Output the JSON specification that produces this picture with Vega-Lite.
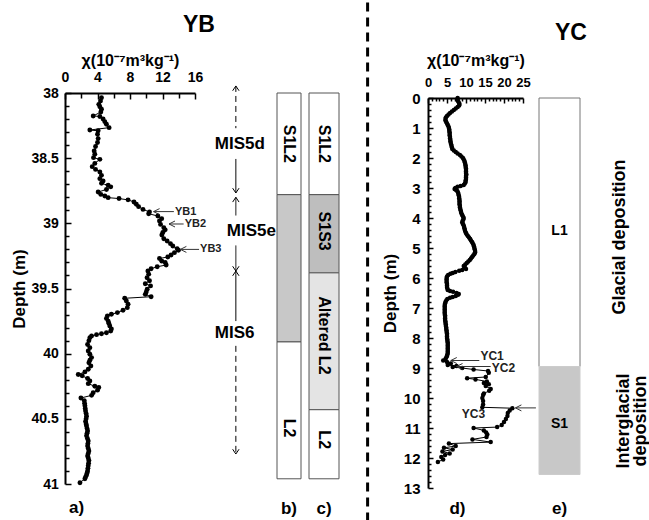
{
  "$schema": "https://vega.github.io/schema/vega-lite/v6.json",
  "background": "white",
  "padding": {"left": 10, "top": 0, "right": 0, "bottom": 0},
  "autosize": {"type": "pad"},
  "config": {
    "font": "Liberation Sans",
    "view": {"stroke": null},
    "axis": {
      "domainColor": "black", "domainWidth": 2, "tickColor": "black", "tickWidth": 1.5,
      "labelColor": "black", "labelFont": "Liberation Sans", "labelFontWeight": "bold",
      "titleColor": "black", "titleFont": "Liberation Sans", "titleFontWeight": "bold",
      "grid": false, "labelOverlap": false, "labelFlush": false
    },
    "title": {"font": "Liberation Sans", "fontWeight": "bold", "color": "black"}
  },
  "datasets": {
    "yb": [
      {"depth": 38.036, "chi": 4.49}, {"depth": 38.061, "chi": 4.37}, {"depth": 38.087, "chi": 4.16}, {"depth": 38.105, "chi": 4.29},
      {"depth": 38.125, "chi": 4.49}, {"depth": 38.146, "chi": 4.41}, {"depth": 38.176, "chi": 3.47}, {"depth": 38.18, "chi": 4.29},
      {"depth": 38.2, "chi": 4.69}, {"depth": 38.22, "chi": 4.9}, {"depth": 38.24, "chi": 5.1}, {"depth": 38.266, "chi": 5.43},
      {"depth": 38.284, "chi": 3.06}, {"depth": 38.29, "chi": 4.08}, {"depth": 38.317, "chi": 4.0}, {"depth": 38.35, "chi": 4.08},
      {"depth": 38.38, "chi": 4.0}, {"depth": 38.41, "chi": 3.76}, {"depth": 38.445, "chi": 3.59}, {"depth": 38.47, "chi": 3.67},
      {"depth": 38.496, "chi": 3.51}, {"depth": 38.509, "chi": 4.29}, {"depth": 38.54, "chi": 3.67}, {"depth": 38.565, "chi": 3.35},
      {"depth": 38.586, "chi": 3.76}, {"depth": 38.606, "chi": 4.29}, {"depth": 38.632, "chi": 4.49}, {"depth": 38.657, "chi": 4.29},
      {"depth": 38.675, "chi": 4.69}, {"depth": 38.693, "chi": 4.49}, {"depth": 38.708, "chi": 5.31}, {"depth": 38.72, "chi": 5.63},
      {"depth": 38.74, "chi": 5.1}, {"depth": 38.76, "chi": 4.08}, {"depth": 38.778, "chi": 4.41}, {"depth": 38.79, "chi": 4.9},
      {"depth": 38.803, "chi": 5.31}, {"depth": 38.81, "chi": 6.65}, {"depth": 38.82, "chi": 7.76}, {"depth": 38.836, "chi": 8.49},
      {"depth": 38.854, "chi": 8.78}, {"depth": 38.872, "chi": 9.06}, {"depth": 38.893, "chi": 9.6}, {"depth": 38.913, "chi": 10.4},
      {"depth": 38.926, "chi": 10.3}, {"depth": 38.944, "chi": 11.43}, {"depth": 38.964, "chi": 11.9}, {"depth": 38.982, "chi": 11.63},
      {"depth": 39.008, "chi": 11.76}, {"depth": 39.033, "chi": 12.16}, {"depth": 39.05, "chi": 12.33}, {"depth": 39.07, "chi": 12.04},
      {"depth": 39.09, "chi": 11.92}, {"depth": 39.118, "chi": 12.16}, {"depth": 39.136, "chi": 12.57}, {"depth": 39.156, "chi": 12.98},
      {"depth": 39.174, "chi": 13.27}, {"depth": 39.194, "chi": 13.8}, {"depth": 39.207, "chi": 13.96}, {"depth": 39.225, "chi": 13.47},
      {"depth": 39.243, "chi": 13.06}, {"depth": 39.258, "chi": 12.65}, {"depth": 39.27, "chi": 11.63}, {"depth": 39.29, "chi": 11.92},
      {"depth": 39.3, "chi": 12.33}, {"depth": 39.32, "chi": 12.45}, {"depth": 39.333, "chi": 11.35}, {"depth": 39.348, "chi": 10.6},
      {"depth": 39.366, "chi": 10.2}, {"depth": 39.39, "chi": 10.3}, {"depth": 39.417, "chi": 10.1}, {"depth": 39.44, "chi": 10.4},
      {"depth": 39.463, "chi": 9.88}, {"depth": 39.48, "chi": 10.53}, {"depth": 39.506, "chi": 10.12}, {"depth": 39.527, "chi": 10.0},
      {"depth": 39.545, "chi": 9.88}, {"depth": 39.563, "chi": 10.6}, {"depth": 39.575, "chi": 7.35}, {"depth": 39.596, "chi": 7.55},
      {"depth": 39.62, "chi": 7.76}, {"depth": 39.647, "chi": 7.67}, {"depth": 39.667, "chi": 7.14}, {"depth": 39.685, "chi": 6.45},
      {"depth": 39.698, "chi": 5.71}, {"depth": 39.71, "chi": 5.22}, {"depth": 39.73, "chi": 5.1}, {"depth": 39.75, "chi": 5.31},
      {"depth": 39.767, "chi": 5.39}, {"depth": 39.788, "chi": 5.51}, {"depth": 39.81, "chi": 5.71}, {"depth": 39.826, "chi": 5.63},
      {"depth": 39.84, "chi": 5.1}, {"depth": 39.847, "chi": 4.49}, {"depth": 39.854, "chi": 3.88}, {"depth": 39.865, "chi": 3.27},
      {"depth": 39.877, "chi": 3.06}, {"depth": 39.9, "chi": 2.94}, {"depth": 39.93, "chi": 2.78}, {"depth": 39.954, "chi": 3.06},
      {"depth": 39.98, "chi": 2.86}, {"depth": 40.005, "chi": 3.06}, {"depth": 40.03, "chi": 3.27}, {"depth": 40.05, "chi": 3.06},
      {"depth": 40.07, "chi": 2.94}, {"depth": 40.095, "chi": 3.18}, {"depth": 40.12, "chi": 2.86}, {"depth": 40.14, "chi": 2.45},
      {"depth": 40.16, "chi": 1.63}, {"depth": 40.17, "chi": 2.12}, {"depth": 40.19, "chi": 2.78}, {"depth": 40.21, "chi": 3.06},
      {"depth": 40.23, "chi": 2.86}, {"depth": 40.25, "chi": 3.67}, {"depth": 40.26, "chi": 4.16}, {"depth": 40.28, "chi": 4.0},
      {"depth": 40.3, "chi": 3.47}, {"depth": 40.32, "chi": 3.27}, {"depth": 40.34, "chi": 1.96}, {"depth": 40.36, "chi": 2.37},
      {"depth": 40.38, "chi": 2.41}, {"depth": 40.4, "chi": 2.45}, {"depth": 40.42, "chi": 2.49}, {"depth": 40.44, "chi": 2.53},
      {"depth": 40.46, "chi": 2.6}, {"depth": 40.48, "chi": 2.65}, {"depth": 40.5, "chi": 2.6}, {"depth": 40.52, "chi": 2.53},
      {"depth": 40.54, "chi": 2.6}, {"depth": 40.555, "chi": 2.65}, {"depth": 40.575, "chi": 2.72}, {"depth": 40.593, "chi": 2.78},
      {"depth": 40.61, "chi": 2.72}, {"depth": 40.63, "chi": 2.65}, {"depth": 40.65, "chi": 2.76}, {"depth": 40.67, "chi": 2.86},
      {"depth": 40.69, "chi": 2.82}, {"depth": 40.708, "chi": 2.78}, {"depth": 40.727, "chi": 2.86}, {"depth": 40.747, "chi": 2.94},
      {"depth": 40.766, "chi": 2.86}, {"depth": 40.785, "chi": 2.78}, {"depth": 40.8, "chi": 2.86}, {"depth": 40.82, "chi": 2.94},
      {"depth": 40.84, "chi": 2.9}, {"depth": 40.86, "chi": 2.86}, {"depth": 40.88, "chi": 2.82}, {"depth": 40.9, "chi": 2.78},
      {"depth": 40.915, "chi": 2.72}, {"depth": 40.93, "chi": 2.65}, {"depth": 40.945, "chi": 2.55}, {"depth": 40.96, "chi": 2.45},
      {"depth": 40.99, "chi": 1.84}
    ],
    "ybMarks": [
      {"label": "YB1", "depth": 38.91, "from": 13.4, "tip": 10.9},
      {"label": "YB2", "depth": 39.005, "from": 14.6, "tip": 12.8},
      {"label": "YB3", "depth": 39.2, "from": 16.5, "tip": 14.2}
    ],
    "mis": [
      {"top": 37.946, "bottom": 38.27, "style": "dashed"},
      {"top": 38.506, "bottom": 38.767, "style": "solid"},
      {"top": 38.80, "bottom": 38.94, "style": "solid"},
      {"top": 39.17, "bottom": 39.366, "style": "solid"},
      {"top": 39.366, "bottom": 39.75, "style": "solid"},
      {"top": 39.94, "bottom": 40.77, "style": "dashed"}
    ],
    "misHeads": [
      {"depth": 37.946, "dir": "up"}, {"depth": 38.767, "dir": "down"}, {"depth": 38.80, "dir": "up"},
      {"depth": 39.366, "dir": "down"}, {"depth": 39.366, "dir": "up"}, {"depth": 40.77, "dir": "down"}
    ],
    "misLabels": [
      {"label": "MIS5d", "depth": 38.39}, {"label": "MIS6", "depth": 39.84}
    ],
    "misLabelPeak": [
      {"label": "MIS5e", "depth": 39.06}
    ],
    "colB": [
      {"unit": "S1L2", "top": 38.0, "bottom": 38.78, "shade": "white"},
      {"unit": "", "top": 38.78, "bottom": 39.91, "shade": "gray"},
      {"unit": "L2", "top": 39.91, "bottom": 40.96, "shade": "white"}
    ],
    "colBLabels": [
      {"unit": "S1L2", "depth": 38.39}, {"unit": "L2", "depth": 40.57}
    ],
    "colC": [
      {"unit": "S1L2", "top": 38.0, "bottom": 38.78, "shade": "white"},
      {"unit": "S1S3", "top": 38.78, "bottom": 39.38, "shade": "dark"},
      {"unit": "Altered L2", "top": 39.38, "bottom": 40.43, "shade": "light"},
      {"unit": "L2", "top": 40.43, "bottom": 40.96, "shade": "white"}
    ],
    "colCLabels": [
      {"unit": "S1L2", "depth": 38.39}, {"unit": "S1S3", "depth": 39.06},
      {"unit": "Altered L2", "depth": 39.86}, {"unit": "L2", "depth": 40.66}
    ],
    "yc": [
      {"depth": 0.0, "chi": 7.8}, {"depth": 0.05, "chi": 7.7}, {"depth": 0.1, "chi": 7.9}, {"depth": 0.15, "chi": 8.1},
      {"depth": 0.2, "chi": 8.3}, {"depth": 0.25, "chi": 8.2}, {"depth": 0.3, "chi": 7.8}, {"depth": 0.35, "chi": 7.3},
      {"depth": 0.4, "chi": 6.8}, {"depth": 0.45, "chi": 6.3}, {"depth": 0.5, "chi": 5.8}, {"depth": 0.55, "chi": 5.4},
      {"depth": 0.6, "chi": 5.0}, {"depth": 0.65, "chi": 4.7}, {"depth": 0.7, "chi": 4.6}, {"depth": 0.75, "chi": 4.6},
      {"depth": 0.8, "chi": 4.8}, {"depth": 0.85, "chi": 5.0}, {"depth": 0.9, "chi": 5.2}, {"depth": 0.95, "chi": 5.4},
      {"depth": 1.0, "chi": 5.5}, {"depth": 1.05, "chi": 5.6}, {"depth": 1.1, "chi": 5.6}, {"depth": 1.15, "chi": 5.7},
      {"depth": 1.2, "chi": 5.7}, {"depth": 1.25, "chi": 5.7}, {"depth": 1.3, "chi": 5.8}, {"depth": 1.35, "chi": 5.8},
      {"depth": 1.4, "chi": 5.9}, {"depth": 1.45, "chi": 5.9}, {"depth": 1.5, "chi": 6.0}, {"depth": 1.55, "chi": 6.1},
      {"depth": 1.6, "chi": 6.2}, {"depth": 1.65, "chi": 6.3}, {"depth": 1.7, "chi": 6.4}, {"depth": 1.75, "chi": 6.8},
      {"depth": 1.8, "chi": 7.3}, {"depth": 1.85, "chi": 7.8}, {"depth": 1.9, "chi": 8.4}, {"depth": 1.95, "chi": 8.8},
      {"depth": 2.0, "chi": 9.2}, {"depth": 2.05, "chi": 9.4}, {"depth": 2.1, "chi": 9.6}, {"depth": 2.15, "chi": 9.7},
      {"depth": 2.2, "chi": 9.8}, {"depth": 2.25, "chi": 9.9}, {"depth": 2.3, "chi": 9.9}, {"depth": 2.35, "chi": 10.0},
      {"depth": 2.4, "chi": 10.0}, {"depth": 2.45, "chi": 10.0}, {"depth": 2.5, "chi": 10.0}, {"depth": 2.55, "chi": 10.1},
      {"depth": 2.6, "chi": 10.0}, {"depth": 2.65, "chi": 10.0}, {"depth": 2.7, "chi": 10.0}, {"depth": 2.75, "chi": 9.9},
      {"depth": 2.8, "chi": 9.9}, {"depth": 2.85, "chi": 9.7}, {"depth": 2.9, "chi": 9.4}, {"depth": 2.93, "chi": 8.6},
      {"depth": 2.96, "chi": 7.8}, {"depth": 3.0, "chi": 7.2}, {"depth": 3.03, "chi": 7.0}, {"depth": 3.06, "chi": 7.3},
      {"depth": 3.1, "chi": 7.7}, {"depth": 3.15, "chi": 7.9}, {"depth": 3.2, "chi": 8.0}, {"depth": 3.25, "chi": 8.1},
      {"depth": 3.3, "chi": 8.2}, {"depth": 3.35, "chi": 8.2}, {"depth": 3.4, "chi": 8.3}, {"depth": 3.45, "chi": 8.3},
      {"depth": 3.5, "chi": 8.3}, {"depth": 3.55, "chi": 8.3}, {"depth": 3.6, "chi": 8.4}, {"depth": 3.65, "chi": 8.4},
      {"depth": 3.7, "chi": 8.5}, {"depth": 3.75, "chi": 8.6}, {"depth": 3.8, "chi": 8.7}, {"depth": 3.85, "chi": 8.8},
      {"depth": 3.9, "chi": 9.0}, {"depth": 3.95, "chi": 9.2}, {"depth": 4.0, "chi": 9.4}, {"depth": 4.05, "chi": 9.3},
      {"depth": 4.1, "chi": 9.1}, {"depth": 4.15, "chi": 9.0}, {"depth": 4.2, "chi": 9.2}, {"depth": 4.25, "chi": 9.4},
      {"depth": 4.3, "chi": 9.5}, {"depth": 4.35, "chi": 9.6}, {"depth": 4.4, "chi": 9.7}, {"depth": 4.45, "chi": 9.8},
      {"depth": 4.5, "chi": 10.0}, {"depth": 4.55, "chi": 10.2}, {"depth": 4.6, "chi": 10.5}, {"depth": 4.65, "chi": 10.8},
      {"depth": 4.7, "chi": 11.1}, {"depth": 4.75, "chi": 11.3}, {"depth": 4.8, "chi": 11.6}, {"depth": 4.85, "chi": 11.8},
      {"depth": 4.9, "chi": 12.0}, {"depth": 4.95, "chi": 12.1}, {"depth": 5.0, "chi": 12.2}, {"depth": 5.05, "chi": 12.3},
      {"depth": 5.1, "chi": 12.4}, {"depth": 5.15, "chi": 12.4}, {"depth": 5.2, "chi": 12.2}, {"depth": 5.25, "chi": 11.9},
      {"depth": 5.3, "chi": 11.6}, {"depth": 5.35, "chi": 11.3}, {"depth": 5.4, "chi": 11.0}, {"depth": 5.45, "chi": 10.6},
      {"depth": 5.5, "chi": 10.2}, {"depth": 5.55, "chi": 9.8}, {"depth": 5.6, "chi": 9.4}, {"depth": 5.65, "chi": 9.7},
      {"depth": 5.7, "chi": 10.0}, {"depth": 5.73, "chi": 9.0}, {"depth": 5.76, "chi": 8.2}, {"depth": 5.8, "chi": 7.2},
      {"depth": 5.83, "chi": 6.5}, {"depth": 5.86, "chi": 5.9}, {"depth": 5.9, "chi": 5.3}, {"depth": 5.95, "chi": 5.0},
      {"depth": 6.0, "chi": 4.9}, {"depth": 6.05, "chi": 4.9}, {"depth": 6.1, "chi": 4.9}, {"depth": 6.15, "chi": 4.9},
      {"depth": 6.2, "chi": 5.0}, {"depth": 6.25, "chi": 5.0}, {"depth": 6.3, "chi": 5.0}, {"depth": 6.35, "chi": 5.1},
      {"depth": 6.4, "chi": 5.2}, {"depth": 6.43, "chi": 5.8}, {"depth": 6.46, "chi": 6.6}, {"depth": 6.5, "chi": 7.5},
      {"depth": 6.53, "chi": 8.1}, {"depth": 6.56, "chi": 7.9}, {"depth": 6.6, "chi": 7.3}, {"depth": 6.63, "chi": 6.5},
      {"depth": 6.66, "chi": 5.8}, {"depth": 6.7, "chi": 5.1}, {"depth": 6.75, "chi": 4.8}, {"depth": 6.8, "chi": 4.6},
      {"depth": 6.85, "chi": 4.5}, {"depth": 6.9, "chi": 4.4}, {"depth": 6.95, "chi": 4.4}, {"depth": 7.0, "chi": 4.4},
      {"depth": 7.05, "chi": 4.4}, {"depth": 7.1, "chi": 4.4}, {"depth": 7.15, "chi": 4.4}, {"depth": 7.2, "chi": 4.4},
      {"depth": 7.25, "chi": 4.5}, {"depth": 7.3, "chi": 4.5}, {"depth": 7.35, "chi": 4.5}, {"depth": 7.4, "chi": 4.5},
      {"depth": 7.45, "chi": 4.6}, {"depth": 7.5, "chi": 4.6}, {"depth": 7.55, "chi": 4.7}, {"depth": 7.6, "chi": 4.7},
      {"depth": 7.65, "chi": 4.8}, {"depth": 7.7, "chi": 4.8}, {"depth": 7.75, "chi": 4.9}, {"depth": 7.8, "chi": 4.9},
      {"depth": 7.85, "chi": 5.0}, {"depth": 7.9, "chi": 5.0}, {"depth": 7.95, "chi": 5.0}, {"depth": 8.0, "chi": 5.0},
      {"depth": 8.05, "chi": 5.1}, {"depth": 8.1, "chi": 5.1}, {"depth": 8.15, "chi": 5.2}, {"depth": 8.2, "chi": 5.2},
      {"depth": 8.25, "chi": 5.2}, {"depth": 8.3, "chi": 5.2}, {"depth": 8.35, "chi": 5.2}, {"depth": 8.4, "chi": 5.2},
      {"depth": 8.45, "chi": 5.2}, {"depth": 8.5, "chi": 5.2}, {"depth": 8.55, "chi": 5.1}, {"depth": 8.6, "chi": 5.0},
      {"depth": 8.65, "chi": 4.8}, {"depth": 8.7, "chi": 4.6}, {"depth": 8.75, "chi": 4.0},
      {"depth": 8.8, "chi": 5.0}, {"depth": 8.85, "chi": 6.0}, {"depth": 8.9, "chi": 5.2}, {"depth": 8.93, "chi": 7.5},
      {"depth": 8.97, "chi": 6.5}, {"depth": 9.0, "chi": 9.0}, {"depth": 9.05, "chi": 12.0}, {"depth": 9.1, "chi": 15.8},
      {"depth": 9.16, "chi": 16.0}, {"depth": 9.3, "chi": 15.2}, {"depth": 9.34, "chi": 10.3}, {"depth": 9.38, "chi": 12.5},
      {"depth": 9.45, "chi": 15.5}, {"depth": 9.5, "chi": 14.7}, {"depth": 9.54, "chi": 16.0}, {"depth": 9.6, "chi": 15.2},
      {"depth": 9.7, "chi": 16.5}, {"depth": 9.76, "chi": 16.1}, {"depth": 9.85, "chi": 14.7}, {"depth": 9.9, "chi": 14.5},
      {"depth": 10.0, "chi": 14.3}, {"depth": 10.1, "chi": 14.5}, {"depth": 10.22, "chi": 14.5}, {"depth": 10.31, "chi": 14.3},
      {"depth": 10.34, "chi": 22.2}, {"depth": 10.42, "chi": 21.5}, {"depth": 10.5, "chi": 21.0}, {"depth": 10.6, "chi": 20.9},
      {"depth": 10.7, "chi": 20.5}, {"depth": 10.8, "chi": 20.0}, {"depth": 10.9, "chi": 19.4}, {"depth": 10.97, "chi": 18.2},
      {"depth": 11.0, "chi": 12.0}, {"depth": 11.08, "chi": 14.7}, {"depth": 11.15, "chi": 15.3}, {"depth": 11.22, "chi": 15.6},
      {"depth": 11.3, "chi": 15.4}, {"depth": 11.38, "chi": 11.7}, {"depth": 11.47, "chi": 16.5}, {"depth": 11.52, "chi": 5.5},
      {"depth": 11.6, "chi": 7.3}, {"depth": 11.66, "chi": 4.2}, {"depth": 11.72, "chi": 6.5}, {"depth": 11.78, "chi": 3.8},
      {"depth": 11.85, "chi": 5.7}, {"depth": 11.9, "chi": 4.5}, {"depth": 11.97, "chi": 3.5}, {"depth": 12.05, "chi": 4.0},
      {"depth": 12.13, "chi": 2.6}
    ],
    "ycMarks": [
      {"label": "YC1", "depth": 8.75, "from": 13.5, "tip": 6.0, "textChi": 13.8, "textDepth": 8.6},
      {"label": "YC2", "depth": 8.95, "from": 16.5, "tip": 7.5, "textChi": 16.8, "textDepth": 9.0},
      {"label": "YC3", "depth": 10.33, "from": 28.4, "tip": 23.0, "textChi": 8.9, "textDepth": 10.53}
    ],
    "colE": [
      {"unit": "L1", "top": 0, "bottom": 8.95, "shade": "white"},
      {"unit": "S1", "top": 8.95, "bottom": 12.55, "shade": "gray"}
    ],
    "colELabels": [
      {"unit": "L1", "depth": 4.43}, {"unit": "S1", "depth": 10.87}
    ],
    "glacial": [
      {"text": ["Glacial deposition"], "depth": 4.63}
    ],
    "interglacial": [
      {"text": ["Interglacial", "deposition"], "depth": 10.77}
    ]
  },
  "bounds": "flush",
  "spacing": 0,
  "hconcat": [
    {
      "width": 130,
      "height": 391,
      "title": {"text": "a)", "orient": "bottom", "anchor": "start", "frame": "group", "dx": 4, "offset": 9, "fontSize": 17},
      "resolve": {"axis": {"x": "independent", "y": "independent"}},
      "layer": [
        {
          "data": {"name": "yb"},
          "mark": {"type": "line", "color": "black", "strokeWidth": 1, "clip": false},
          "encoding": {
            "x": {
              "field": "chi", "type": "quantitative",
              "scale": {"domain": [0, 16], "nice": false, "zero": false},
              "axis": {
                "orient": "top", "title": "χ(10⁻⁷m³kg⁻¹)", "titleFontSize": 16, "titlePadding": 2,
                "values": [0, 4, 8, 12, 16], "tickSize": -6, "labelPadding": 15, "labelFontSize": 14
              }
            },
            "y": {
              "field": "depth", "type": "quantitative",
              "scale": {"domain": [38, 41], "nice": false, "zero": false, "reverse": true},
              "axis": {
                "orient": "left", "title": "Depth (m)", "titleFontSize": 17, "titlePadding": 3,
                "values": [38, 38.5, 39, 39.5, 40, 40.5, 41], "format": "~g",
                "tickSize": -6, "labelPadding": 12.7, "labelFontSize": 14
              }
            },
            "order": {"field": "depth", "type": "quantitative"}
          }
        },
        {
          "data": {"name": "yb"},
          "mark": {"type": "point", "filled": true, "color": "black", "size": 24, "opacity": 1, "clip": false},
          "encoding": {
            "x": {
              "field": "chi", "type": "quantitative",
              "axis": {"orient": "top", "title": null, "labels": false, "domain": false, "values": [2, 6, 10, 14], "tickSize": -5}
            },
            "y": {
              "field": "depth", "type": "quantitative",
              "axis": {"orient": "left", "title": null, "labels": false, "domain": false, "tickSize": -4,
                "values": [38.1, 38.2, 38.3, 38.4, 38.6, 38.7, 38.8, 38.9, 39.1, 39.2, 39.3, 39.4, 39.6, 39.7, 39.8, 39.9, 40.1, 40.2, 40.3, 40.4, 40.6, 40.7, 40.8, 40.9]}
            }
          }
        },
        {
          "data": {"name": "ybMarks"},
          "mark": {"type": "rule", "color": "#333", "strokeWidth": 1},
          "encoding": {
            "x": {"field": "from", "type": "quantitative", "axis": null},
            "x2": {"field": "tip"},
            "y": {"field": "depth", "type": "quantitative", "axis": null}
          }
        },
        {
          "data": {"name": "ybMarks"},
          "mark": {"type": "point", "filled": false, "color": "#333", "strokeWidth": 1, "size": 100, "opacity": 1, "shape": "M0,0L1.2,-0.6M0,0L1.2,0.6"},
          "encoding": {
            "x": {"field": "tip", "type": "quantitative", "axis": null},
            "y": {"field": "depth", "type": "quantitative", "axis": null}
          }
        },
        {
          "data": {"name": "ybMarks"},
          "mark": {"type": "text", "align": "left", "baseline": "middle", "fontSize": 11, "fontWeight": "bold", "dx": 1, "color": "#222"},
          "encoding": {
            "x": {"field": "from", "type": "quantitative", "axis": null},
            "y": {"field": "depth", "type": "quantitative", "axis": null},
            "text": {"field": "label"}
          }
        }
      ]
    },
    {
      "width": 81.7,
      "height": 391,
      "title": {"text": "YB", "anchor": "start", "dx": -12, "fontSize": 23, "offset": 47},
      "layer": [
        {
          "data": {"name": "mis"},
          "mark": {"type": "rule", "color": "black", "strokeWidth": 1},
          "encoding": {
            "y": {"field": "top", "type": "quantitative", "scale": {"domain": [38, 41], "nice": false, "zero": false, "reverse": true}, "axis": null},
            "y2": {"field": "bottom"},
            "strokeDash": {"field": "style", "type": "nominal", "scale": {"domain": ["dashed", "solid"], "range": [[6, 4], [1, 0]]}, "legend": null}
          }
        },
        {
          "data": {"name": "misHeads"},
          "mark": {"type": "point", "filled": false, "color": "black", "strokeWidth": 1, "size": 64, "opacity": 1},
          "encoding": {
            "y": {"field": "depth", "type": "quantitative"},
            "shape": {"field": "dir", "type": "nominal", "scale": {"domain": ["up", "down"], "range": ["M-0.8,1.2L0,0L0.8,1.2", "M-0.8,-1.2L0,0L0.8,-1.2"]}, "legend": null}
          }
        },
        {
          "data": {"name": "misLabels"},
          "mark": {"type": "text", "align": "left", "baseline": "middle", "dx": -21, "fontSize": 17, "fontWeight": "bold", "color": "black"},
          "encoding": {
            "y": {"field": "depth", "type": "quantitative"},
            "text": {"field": "label"}
          }
        },
        {
          "data": {"name": "misLabelPeak"},
          "mark": {"type": "text", "align": "left", "baseline": "middle", "dx": -9, "fontSize": 17, "fontWeight": "bold", "color": "black"},
          "encoding": {
            "y": {"field": "depth", "type": "quantitative"},
            "text": {"field": "label"}
          }
        }
      ]
    },
    {
      "width": 24,
      "height": 391,
      "title": {"text": "b)", "orient": "bottom", "anchor": "middle", "offset": 17, "fontSize": 17},
      "layer": [
        {
          "data": {"name": "colB"},
          "mark": {"type": "rect", "stroke": "#555", "strokeWidth": 1},
          "encoding": {
            "y": {"field": "top", "type": "quantitative", "scale": {"domain": [38, 41], "nice": false, "zero": false, "reverse": true}, "axis": null},
            "y2": {"field": "bottom"},
            "fill": {"field": "shade", "type": "nominal", "scale": {"domain": ["white", "gray", "dark", "light"], "range": ["#ffffff", "#c8c8c8", "#bebebe", "#e4e4e4"]}, "legend": null}
          }
        },
        {
          "data": {"name": "colBLabels"},
          "mark": {"type": "text", "angle": 90, "align": "center", "baseline": "middle", "fontSize": 16, "fontWeight": "bold", "color": "black"},
          "encoding": {
            "y": {"field": "depth", "type": "quantitative"},
            "text": {"field": "unit"}
          }
        }
      ]
    },
    {"width": 8, "height": 391, "data": {"values": []}, "mark": "point"},
    {
      "width": 30,
      "height": 391,
      "title": {"text": "c)", "orient": "bottom", "anchor": "middle", "offset": 17, "fontSize": 17},
      "layer": [
        {
          "data": {"name": "colC"},
          "mark": {"type": "rect", "stroke": "#555", "strokeWidth": 1},
          "encoding": {
            "y": {"field": "top", "type": "quantitative", "scale": {"domain": [38, 41], "nice": false, "zero": false, "reverse": true}, "axis": null},
            "y2": {"field": "bottom"},
            "fill": {"field": "shade", "type": "nominal", "scale": {"domain": ["white", "gray", "dark", "light"], "range": ["#ffffff", "#c8c8c8", "#bebebe", "#e4e4e4"]}, "legend": null}
          }
        },
        {
          "data": {"name": "colCLabels"},
          "mark": {"type": "text", "angle": 90, "align": "center", "baseline": "middle", "fontSize": 16, "fontWeight": "bold", "color": "black"},
          "encoding": {
            "y": {"field": "depth", "type": "quantitative"},
            "text": {"field": "unit"}
          }
        }
      ]
    },
    {
      "width": 57.2,
      "height": 391,
      "data": {"values": [{}]},
      "mark": {"type": "rule", "color": "black", "strokeWidth": 3, "strokeDash": [9, 6], "clip": false},
      "encoding": {
        "y": {"datum": 37.3055, "type": "quantitative", "scale": {"domain": [38, 41], "nice": false, "zero": false, "reverse": true}, "axis": null},
        "y2": {"datum": 41.28}
      }
    },
    {"width": 30.4, "height": 391, "data": {"values": []}, "mark": "point"},
    {
      "width": 95,
      "height": 395,
      "title": {"text": "d)", "orient": "bottom", "anchor": "middle", "frame": "group", "dx": -18, "offset": 5, "fontSize": 17},
      "resolve": {"axis": {"x": "independent", "y": "independent"}},
      "layer": [
        {
          "data": {"name": "yc"},
          "mark": {"type": "line", "color": "black", "strokeWidth": 1, "clip": false},
          "encoding": {
            "x": {
              "field": "chi", "type": "quantitative",
              "scale": {"domain": [0, 25], "nice": false, "zero": false},
              "axis": {
                "orient": "top", "offset": -5, "title": "χ(10⁻⁷m³kg⁻¹)", "titleFontSize": 16, "titlePadding": 8,
                "values": [0, 5, 10, 15, 20, 25], "tickSize": -5, "labelPadding": 14, "labelFontSize": 13
              }
            },
            "y": {
              "field": "depth", "type": "quantitative",
              "scale": {"domain": [0, 13], "nice": false, "zero": false, "range": [5, 395]},
              "axis": {
                "orient": "left", "title": "Depth (m)", "titleFontSize": 17, "titlePadding": 4,
                "values": [0, 1, 2, 3, 4, 5, 6, 7, 8, 9, 10, 11, 12, 13], "format": "~g",
                "tickSize": -5, "labelPadding": 13, "labelFontSize": 15
              }
            },
            "order": {"field": "depth", "type": "quantitative"}
          }
        },
        {
          "data": {"name": "yc"},
          "mark": {"type": "point", "filled": true, "color": "black", "size": 20, "opacity": 1, "clip": false},
          "encoding": {
            "x": {
              "field": "chi", "type": "quantitative",
              "axis": {"orient": "top", "offset": -5, "title": null, "labels": false, "domain": false, "tickSize": -3,
                "values": [1, 2, 3, 4, 6, 7, 8, 9, 11, 12, 13, 14, 16, 17, 18, 19, 21, 22, 23, 24]}
            },
            "y": {
              "field": "depth", "type": "quantitative",
              "axis": {"orient": "left", "title": null, "labels": false, "domain": false, "tickSize": -3,
                "values": [0.2, 0.4, 0.6, 0.8, 1.2, 1.4, 1.6, 1.8, 2.2, 2.4, 2.6, 2.8, 3.2, 3.4, 3.6, 3.8, 4.2, 4.4, 4.6, 4.8, 5.2, 5.4, 5.6, 5.8, 6.2, 6.4, 6.6, 6.8, 7.2, 7.4, 7.6, 7.8, 8.2, 8.4, 8.6, 8.8, 9.2, 9.4, 9.6, 9.8, 10.2, 10.4, 10.6, 10.8, 11.2, 11.4, 11.6, 11.8, 12.2, 12.4, 12.6, 12.8]}
            }
          }
        },
        {
          "data": {"name": "ycMarks"},
          "mark": {"type": "rule", "color": "#333", "strokeWidth": 1},
          "encoding": {
            "x": {"field": "from", "type": "quantitative", "axis": null},
            "x2": {"field": "tip"},
            "y": {"field": "depth", "type": "quantitative", "axis": null}
          }
        },
        {
          "data": {"name": "ycMarks"},
          "mark": {"type": "point", "filled": false, "color": "#333", "strokeWidth": 1, "size": 100, "opacity": 1, "shape": "M0,0L1.2,-0.6M0,0L1.2,0.6"},
          "encoding": {
            "x": {"field": "tip", "type": "quantitative", "axis": null},
            "y": {"field": "depth", "type": "quantitative", "axis": null}
          }
        },
        {
          "data": {"name": "ycMarks"},
          "mark": {"type": "text", "align": "left", "baseline": "middle", "fontSize": 12, "fontWeight": "bold", "color": "#222"},
          "encoding": {
            "x": {"field": "textChi", "type": "quantitative", "axis": null},
            "y": {"field": "textDepth", "type": "quantitative", "axis": null},
            "text": {"field": "label"}
          }
        }
      ]
    },
    {"width": 16, "height": 395, "data": {"values": []}, "mark": "point"},
    {
      "width": 41,
      "height": 395,
      "title": {"text": "e)", "orient": "bottom", "anchor": "middle", "offset": 13, "fontSize": 17},
      "layer": [
        {
          "data": {"name": "colE"},
          "mark": {"type": "rect", "strokeWidth": 1},
          "encoding": {
            "y": {"field": "top", "type": "quantitative", "scale": {"domain": [0, 13], "nice": false, "zero": false, "range": [5, 395]}, "axis": null},
            "y2": {"field": "bottom"},
            "fill": {"field": "shade", "type": "nominal", "scale": {"domain": ["white", "gray"], "range": ["#ffffff", "#cccccc"]}, "legend": null},
            "stroke": {"field": "shade", "type": "nominal", "scale": {"domain": ["white", "gray"], "range": ["#777777", "#cccccc"]}, "legend": null}
          }
        },
        {
          "data": {"name": "colELabels"},
          "mark": {"type": "text", "align": "center", "baseline": "middle", "fontSize": 14, "fontWeight": "bold", "color": "black"},
          "encoding": {
            "y": {"field": "depth", "type": "quantitative"},
            "text": {"field": "unit"}
          }
        }
      ]
    },
    {"width": 16, "height": 395, "data": {"values": []}, "mark": "point"},
    {
      "width": 48,
      "height": 395,
      "title": {"text": "YC", "anchor": "middle", "dx": -49, "fontSize": 23, "offset": 48},
      "layer": [
        {
          "data": {"name": "glacial"},
          "mark": {"type": "text", "angle": 270, "align": "center", "baseline": "middle", "fontSize": 18, "fontWeight": "bold", "color": "black"},
          "encoding": {
            "y": {"field": "depth", "type": "quantitative", "scale": {"domain": [0, 13], "nice": false, "zero": false, "range": [5, 395]}, "axis": null},
            "text": {"field": "text"}
          }
        },
        {
          "data": {"name": "interglacial"},
          "mark": {"type": "text", "angle": 270, "align": "center", "baseline": "middle", "dy": 4, "fontSize": 18, "fontWeight": "bold", "color": "black", "lineHeight": 17},
          "encoding": {
            "y": {"field": "depth", "type": "quantitative"},
            "text": {"field": "text"}
          }
        }
      ]
    }
  ]
}
